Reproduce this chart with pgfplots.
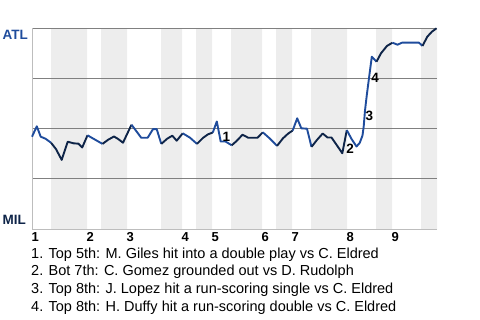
\documentclass[border=0pt]{standalone}
\usepackage{pgfplots}
\pgfplotsset{compat=1.18}
\usepackage{fontspec}
\setmainfont{Liberation Sans}
\definecolor{atlblue}{HTML}{1F4C9C}
\definecolor{milnavy}{HTML}{0E2448}
\definecolor{bandc}{HTML}{EDEDED}
\definecolor{gridc}{HTML}{808080}
\definecolor{axisc}{HTML}{BDBDBD}
\begin{document}
\begin{tikzpicture}
\begin{axis}[
  at={(32bp,-229.5bp)}, anchor=south west,
  scale only axis, width=405bp, height=201.2bp,
  xmin=32, xmax=437, ymin=-0.6, ymax=100,
  set layers, clip=false,
  axis x line=bottom, axis y line=left,
  axis line style={axisc, line width=1bp, -},
  ytick={25,50,75,100}, yticklabels={},
  ymajorgrids, grid style={gridc, line width=1bp},
  major tick length=0pt,
  xtick={32,87,127,182,212,262,292,347,392},
  xticklabels={1,2,3,4,5,6,7,8,9},
  xticklabel style={anchor=base west, inner sep=0pt, font=\fontsize{13bp}{13bp}\selectfont\bfseries, yshift=-12.2bp, xshift=-0.5bp},
  /pgf/number format/assume math mode=true,
  every axis plot/.append style={line width=1.9bp, line join=round, mark=none},
]
% half-inning bands (bottom halves shaded)
\addplot[fill=bandc, draw=none, on layer=axis background] coordinates {
 (51,-0.6)(51,100)(87,100)(87,-0.6)(101,-0.6)(101,100)(127,100)(127,-0.6)
 (161,-0.6)(161,100)(182,100)(182,-0.6)(196,-0.6)(196,100)(212,100)(212,-0.6)
 (231,-0.6)(231,100)(262,100)(262,-0.6)(276,-0.6)(276,100)(292,100)(292,-0.6)
 (311,-0.6)(311,100)(347,100)(347,-0.6)(376,-0.6)(376,100)(392,100)(392,-0.6)
 (421,-0.6)(421,100)(437,100)(437,-0.6)};
% win probability line, by half inning
\addplot[atlblue] coordinates {(32,45.8)(36.8,51.0)(40.7,45.8)(45.5,44.8)(51,42.8)};
\addplot[milnavy] coordinates {(51,42.8)(56,39.6)(61.7,34.2)(67.7,43.3)(73.5,42.5)(78.5,42.3)(82.2,40.4)(87.5,46.5)};
\addplot[atlblue] coordinates {(87.5,46.5)(94.8,44.4)(102.5,42.2)};
\addplot[milnavy] coordinates {(102.5,42.2)(108.2,44.3)(114,45.9)(118,44.7)(123,42.8)(131.5,51.8)};
\addplot[atlblue] coordinates {(131.5,51.8)(141.2,45.3)(147.7,45.3)(153,49.6)(156.7,49.6)(161.3,42.2)};
\addplot[milnavy] coordinates {(161.3,42.2)(167.2,44.8)(172.3,46.3)(176.7,43.8)(182.7,47.5)};
\addplot[atlblue] coordinates {(182.7,47.5)(190,45.3)(197,42.2)};
\addplot[milnavy] coordinates {(197,42.2)(203,45.2)(208,47.0)(212.8,47.9)};
\addplot[atlblue] coordinates {(212.8,47.9)(216.8,53.4)(220.7,43.4)(225.5,43.4)(231.7,41.5)};
\addplot[milnavy] coordinates {(231.7,41.5)(236.7,43.7)(242.5,46.8)(248.2,45.3)(257.5,45.3)(262.8,48.0)};
\addplot[atlblue] coordinates {(262.8,48.0)(270,44.8)(277,41.2)};
\addplot[milnavy] coordinates {(277,41.2)(283,45.0)(288,47.3)(292.7,48.9)};
\addplot[atlblue] coordinates {(292.7,48.9)(297.2,55.0)(301.3,50.0)(307,49.8)(311.5,40.7)};
\addplot[milnavy] coordinates {(311.5,40.7)(317,44.2)(322.7,47.4)(327.5,45.4)(331.5,45.4)(337.3,41.2)(342.3,37.5)(346.8,49.1)};
\addplot[atlblue] coordinates {(346.8,49.1)(351.5,44.7)(356.5,40.9)(359.7,42.7)(362.5,46.4)(363.7,50.9)(365,58.9)(366.7,66.2)(368.5,73.2)(371.8,85.8)(376.5,83.3)};
\addplot[milnavy] coordinates {(376.5,83.3)(381,87.5)(387,91.2)(392.5,92.8)};
\addplot[atlblue] coordinates {(392.5,92.8)(397.5,91.8)(402,92.8)(419,92.8)(422.5,91.2)};
\addplot[milnavy] coordinates {(422.5,91.2)(427.3,95.8)(431.7,98.2)(436.5,100.0)};
% event markers
\begin{scope}[every node/.style={anchor=base west, inner sep=0pt, font=\fontsize{13.5bp}{13.5bp}\selectfont\bfseries}]
\node at (axis cs:222.3,43.2) {1};
\node at (axis cs:346.2,37.5) {2};
\node at (axis cs:365.5,53.8) {3};
\node at (axis cs:371.2,73.0) {4};
\end{scope}
\end{axis}
\node[anchor=base west, inner sep=0pt, font=\fontsize{13.5bp}{13.5bp}\selectfont\bfseries, text=atlblue] at (2.5bp,-39.3bp) {ATL};
\node[anchor=base west, inner sep=0pt, font=\fontsize{13.5bp}{13.5bp}\selectfont\bfseries, text=milnavy] at (2.5bp,-224.3bp) {MIL};
\begin{scope}[every node/.style={anchor=base west, inner sep=0pt, font=\fontsize{14.5bp}{17.6bp}\selectfont}]
\node at (31bp,-258.3bp) {1. Top 5th: M. Giles hit into a double play vs C. Eldred};
\node at (31bp,-275.9bp) {2. Bot 7th: C. Gomez grounded out vs D. Rudolph};
\node at (31bp,-293.5bp) {3. Top 8th: J. Lopez hit a run-scoring single vs C. Eldred};
\node at (31bp,-311.1bp) {4. Top 8th: H. Duffy hit a run-scoring double vs C. Eldred};
\end{scope}
\path (0,0) rectangle (480bp,-320bp);
\end{tikzpicture}
\end{document}
